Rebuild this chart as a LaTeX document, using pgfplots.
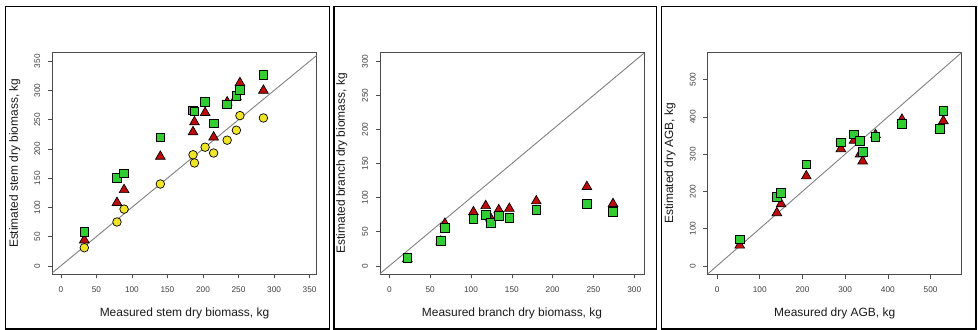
\documentclass[border=0pt]{standalone}
\usepackage{fontspec}
\setmainfont{Liberation Sans}
\usepackage{pgfplots}
\pgfplotsset{compat=1.18}
\definecolor{rgreen}{RGB}{50,205,50}
\definecolor{ryellow}{RGB}{240,228,40}
\definecolor{rred}{RGB}{190,10,10}
\pgfplotsset{
  rstyle/.style={
    scale only axis,
    axis line style={black!70, line width=0.8bp},
    tick pos=left, tick align=outside,
    major tick length=4.5bp,
    tick style={black!70, line width=0.6bp},
    ticklabel style={font=\fontsize{8.3}{9}\selectfont, text=black!75},
    /pgf/number format/assume math mode=true,
    yticklabel style={rotate=90, anchor=south},
    xticklabel style={anchor=north},
    xticklabel shift=4.5bp, yticklabel shift=4bp,
    label style={font=\fontsize{12}{14}\selectfont, text=black!90},
    xlabel style={at={(axis description cs:0.5,-0.1774)}, anchor=center},
    clip=true,
  },
  circ/.style={only marks, mark=*, mark size=4.3bp, mark options={fill=ryellow, draw=black, line width=0.7bp}},
  sq/.style={only marks, mark=square*, mark size=4.3bp, mark options={fill=rgreen, draw=black, line width=0.7bp}},
  tri/.style={only marks, mark=triangle*, mark size=5.6bp, mark options={fill=rred, draw=black, line width=0.7bp}},
  diag/.style={gray, line width=0.9bp, no marks},
}
\begin{document}
\begin{tikzpicture}
\useasboundingbox (0bp,0bp) rectangle (978bp,330bp);
\draw[line width=1.2bp] (5.5bp,1bp) rectangle (329.3bp,323.3bp);
\draw[line width=1.2bp] (334bp,1bp) rectangle (656.7bp,323.3bp);
\draw[line width=1.2bp] (661.7bp,1bp) rectangle (976bp,323.3bp);

% Panel 1: stem
\begin{axis}[rstyle, at={(52.3bp,56bp)}, anchor=south west, width=264.4bp, height=221.5bp,
  xmin=-12, xmax=360, ymin=-14, ymax=365,
  xtick={0,50,...,350}, ytick={0,50,...,350},
  xlabel={Measured stem dry biomass, kg},
  ylabel={Estimated stem dry biomass, kg},
  ylabel style={at={(axis description cs:-0.1418,0.5)}, anchor=center}]
\addplot[diag] coordinates {(-20,-20) (400,400)};
\addplot[circ] coordinates {(33,31) (79,75) (89,97) (140,140) (186,190) (188,176) (203,203) (215,193) (234,215) (247,232) (252,257) (285,253)};
\addplot[tri] coordinates {(33,44) (79,108) (89,130) (140,187) (186,229) (188,246) (203,262) (215,220) (234,280) (247,289) (252,313) (285,300)};
\addplot[sq] coordinates {(33,58) (79,151) (89,158) (140,220) (186,266) (188,264) (203,281) (215,244) (234,276) (247,291) (252,301) (285,327)};
\end{axis}

% Panel 2: branch
\begin{axis}[rstyle, at={(380bp,56bp)}, anchor=south west, width=264bp, height=221.5bp,
  xmin=-11.5, xmax=312, ymin=-12, ymax=313,
  xtick={0,50,...,300}, ytick={0,50,...,300},
  xlabel={Measured branch dry biomass, kg},
  ylabel={Estimated branch dry biomass, kg},
  ylabel style={at={(axis description cs:-0.145,0.5)}, anchor=center}]
\addplot[diag] coordinates {(-20,-20) (400,400)};
\addplot[tri] coordinates {(22,10) (63,36) (68,62) (103,79) (118,88) (124,70) (134,82) (147,84) (180,95) (242,116) (274,91)};
\addplot[sq] coordinates {(22,12) (63,37) (68,56) (103,69) (118,75) (124,63) (134,73) (147,70) (180,82) (242,91) (274,79)};
\end{axis}

% Panel 3: AGB
\begin{axis}[rstyle, at={(707.7bp,56bp)}, anchor=south west, width=254bp, height=221.5bp,
  xmin=-22, xmax=573, ymin=-22, ymax=573,
  xtick={0,100,...,500}, ytick={0,100,...,500},
  xlabel={Measured dry AGB, kg},
  ylabel={Estimated dry AGB, kg},
  ylabel style={at={(axis description cs:-0.148,0.5)}, anchor=center}]
\addplot[diag] coordinates {(-40,-40) (700,700)};
\addplot[tri] coordinates {(53,55) (140,142) (150,166) (209,241) (290,314) (321,337) (335,300) (341,281) (371,352) (433,393) (522,370) (530,389)};
\addplot[sq] coordinates {(53,71) (140,186) (150,196) (209,273) (290,332) (321,353) (335,335) (341,306) (371,347) (433,381) (522,368) (530,417)};
\end{axis}
\end{tikzpicture}
\end{document}
